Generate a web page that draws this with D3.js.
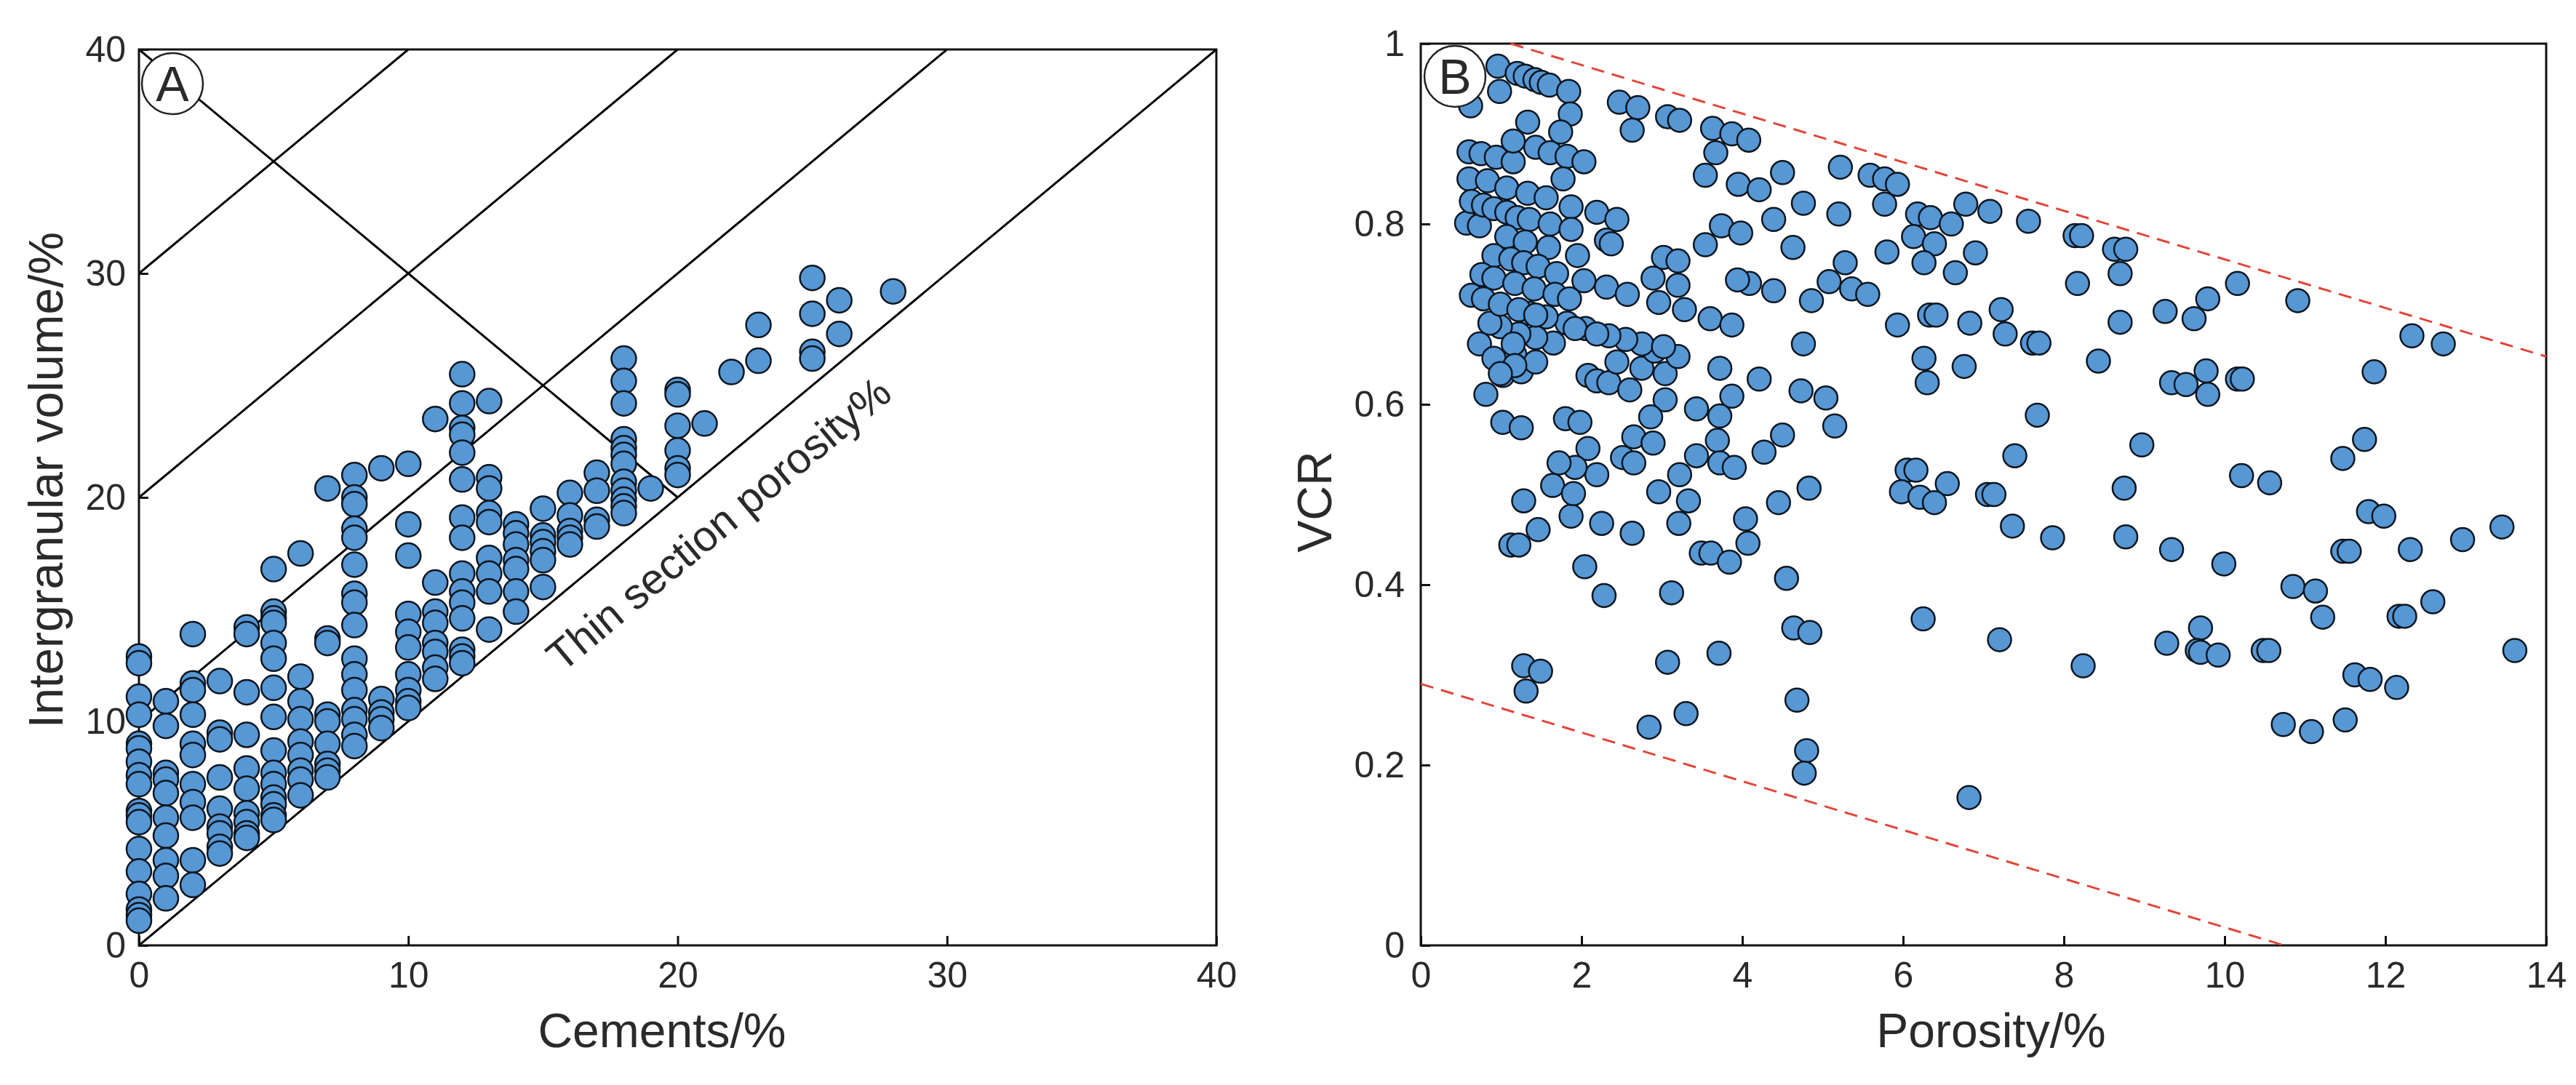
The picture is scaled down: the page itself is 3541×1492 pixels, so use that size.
<!DOCTYPE html>
<html><head><meta charset="utf-8">
<script src="https://cdn.jsdelivr.net/npm/d3@7"></script>
<style>
html,body{margin:0;padding:0;background:#fff;}
svg{display:block;}
text{font-family:"Liberation Sans",Arial,sans-serif;fill:#2a2a2a;}
</style>
</head><body>
<svg id="chart" width="3541" height="1492"></svg>
<script>
// ---------- Panel A data ----------
const aTicks = [0, 10, 20, 30, 40];
const aGuideOffsets = [0, 10, 20, 30];          // lines IGV = cements + offset
const aCrossLine = [[0, 40], [20, 20]];        // descending line
const aCements = [0,1,2,3,4,5,6,7,8,9,10,11,12,13,14,15,16,17,18,19,20,21,22,23,25,26,28];
const aIGV = [
  [12.9,12.6,11.1,10.3,9.0,8.8,8.2,7.6,7.2,6.0,5.8,5.5,4.3,3.3,2.3,1.6,1.35,1.1],
  [10.9,9.8,7.7,7.4,6.8,5.7,4.9,3.8,3.1,2.1],
  [13.9,11.7,11.4,10.3,9.0,8.5,7.2,6.4,5.7,3.8,2.7],
  [11.8,9.5,9.2,7.5,6.1,5.3,5.0,4.4,4.1],
  [14.2,13.9,11.3,9.4,7.9,7.0,5.9,5.5,5.0,4.8],
  [16.8,14.9,14.6,14.4,13.5,12.8,11.5,10.2,8.7,7.7,7.2,6.6,6.3,5.8,5.6],
  [17.5,12.0,10.9,10.1,9.1,8.5,7.8,7.4,6.7],
  [20.4,13.7,13.5,10.3,10.0,9.0,8.1,7.8,7.5],
  [21.0,20.0,19.7,18.6,18.2,17.0,15.7,15.3,14.3,12.8,12.1,11.4,10.5,10.1,9.4,8.9],
  [21.3,11.0,10.4,10.1,9.7],
  [21.5,18.8,17.4,14.8,14.0,13.3,12.1,11.4,10.9,10.6],
  [23.5,16.2,14.9,14.4,13.5,13.1,12.4,11.9],
  [25.5,24.2,23.1,22.8,22.0,20.8,19.1,18.2,16.6,15.8,15.3,14.6,13.2,12.9,12.6],
  [24.3,20.9,20.4,19.3,18.9,17.3,16.6,15.8,14.1],
  [18.8,18.4,17.9,17.2,16.8,15.8,14.9],
  [19.5,18.3,18.0,17.6,17.2,16.0],
  [20.2,19.2,18.5,18.2,17.9],
  [21.1,20.3,19.0,18.7],
  [26.2,25.2,24.2,22.6,22.2,21.9,21.5,20.7,20.3,19.9,19.6,19.3],
  [20.4],
  [24.8,24.6,23.2,22.1,21.3,21.0],
  [23.3],
  [25.6],
  [27.7,26.1],
  [29.8,28.2,26.5,26.2],
  [28.8,27.3],
  [29.2]
];

// ---------- Panel B data ----------
const bXTicks = [0, 2, 4, 6, 8, 10, 12, 14];
const bYTicks = [0, 0.2, 0.4, 0.6, 0.8, 1];
const bUpperLine = [[1.12, 1.0], [14, 0.653]];
const bLowerLine = [[0, 0.29], [10.74, 0]];
const bPorosity = [
  6.78,7.08,7.56,8.14,8.22,8.63,8.77,6.9,8.70,8.17,10.16,9.79,10.91,9.26,9.62,7.22,6.83,7.27,8.70,7.61,7.69,12.33,12.72,6.76,8.43,
  9.34,9.52,9.77,9.79,10.16,10.22,11.86,7.67,8.97,7.39,11.74,11.47,7.05,7.13,8.75,10.21,10.56,7.36,7.86,8.77,9.34,9.99,11.79,11.98,
  11.47,11.55,12.31,12.96,13.45,10.85,11.13,11.22,12.17,12.24,12.59,7.2,9.28,9.70,9.66,9.70,9.92,10.48,10.55,13.61,8.24,11.62,11.81,
  12.14,10.73,11.08,11.5,6.82,
  1.87,2.25,2.63,1.46,1.12,1.22,3.21,4.04,4.07,3.49,3.61,3.84,2.04,2.28,3.12,4.55,6.25,4.64,4.84,1.28,1.49,1.31,3.07,3.71,4.68,3.3,
  2.84,4.8,4.77,
  0.96,1.2,1.3,1.42,1.5,1.6,1.84,0.98,0.62,1.86,2.47,2.70,2.63,3.07,3.22,3.63,3.87,4.08,3.67,3.54,3.95,4.21,4.5,5.22,5.59,5.77,5.93,
  4.76,5.2,5.77,6.18,6.34,6.6,4.39,3.74,3.98,3.54,4.63,5.8,6.13,6.39,6.26,6.65,5.28,5.08,5.36,5.56,4.86,4.39,4.09,3.94,3.02,3.2,2.89,
  3.2,2.96,3.28,3.6,3.87,4.76,5.93,6.33,6.41,6.26,6.30,3.72,4.21,3.87,4.73,5.04,5.15,3.43,3.72,3.69,4.5,4.27,3.43,3.72,3.90,3.22,2.96,
  3.33,4.45,4.83,6.05,6.16,6.55,5.98,6.21,6.39,
  3.04,2.86,2.65,2.89,2.51,2.65,2.19,2.08,1.92,1.72,1.64,1.9,1.28,1.8,1.98,1.02,1.25,0.81,1.02,1.25,2.08,2.19,2.34,2.6,2.44,2.75,3.04,
  3.2,2.91,2.75,2.55,2.34,2.05,1.82,1.56,1.35,1.17,1.43,1.65,1.43,1.22,0.99,0.86,0.73,
  0.6,0.75,0.94,1.15,1.33,1.43,1.61,1.74,1.82,2.03,1.77,1.15,
  0.6,0.83,1.07,1.33,1.56,1.87,2.19,2.44,2.31,2.37,
  0.57,0.73,0.63,0.78,0.91,1.07,1.2,1.35,1.61,1.87,1.07,1.3,1.59,1.95,0.91,1.12,1.28,1.46,1.69,2.03,2.31,2.57,
  0.76,0.91,1.17,1.41,1.67,1.85,0.63,0.78,0.99,1.22,1.43,
  1.15,0.91,1.17,0.99,1.92,2.19,3.02
];
const bVCR = [
  0.822,0.814,0.803,0.787,0.787,0.772,0.772,0.768,0.745,0.734,0.734,0.717,0.715,0.703,0.695,0.705,0.69,0.678,0.691,0.668,0.668,0.676,0.667,0.642,0.648,
  0.624,0.622,0.637,0.611,0.628,0.628,0.636,0.588,0.555,0.543,0.561,0.54,0.5,0.5,0.507,0.521,0.513,0.465,0.452,0.453,0.439,0.423,0.481,0.476,
  0.437,0.437,0.439,0.45,0.464,0.398,0.393,0.364,0.365,0.365,0.381,0.339,0.335,0.352,0.327,0.325,0.322,0.327,0.327,0.327,0.31,0.30,0.295,
  0.286,0.245,0.237,0.25,0.164,
  0.476,0.468,0.457,0.461,0.444,0.444,0.468,0.473,0.446,0.435,0.435,0.425,0.42,0.388,0.391,0.407,0.362,0.352,0.347,0.31,0.304,0.282,0.314,0.324,0.272,0.257,
  0.242,0.216,0.191,
  0.975,0.967,0.964,0.96,0.957,0.954,0.947,0.947,0.931,0.922,0.935,0.929,0.904,0.919,0.915,0.906,0.900,0.893,0.879,0.854,0.844,0.838,0.857,0.863,0.854,0.850,0.844,
  0.823,0.811,0.822,0.811,0.807,0.80,0.805,0.798,0.79,0.777,0.774,0.769,0.786,0.778,0.757,0.746,0.757,0.736,0.728,0.722,0.715,0.726,0.734,0.738,0.763,0.759,0.740,
  0.732,0.713,0.705,0.695,0.688,0.667,0.688,0.699,0.699,0.651,0.624,0.640,0.628,0.609,0.615,0.607,0.576,0.595,0.587,0.560,0.566,0.547,0.543,0.535,0.530,0.522,0.503,
  0.493,0.491,0.507,0.527,0.527,0.512,0.503,0.497,0.491,
  0.605,0.586,0.564,0.557,0.541,0.535,0.522,0.551,0.530,0.535,0.510,0.501,0.493,0.584,0.580,0.580,0.574,0.611,0.632,0.636,0.632,0.626,0.624,0.616,0.647,0.640,0.634,
  0.653,0.659,0.667,0.672,0.676,0.684,0.690,0.697,0.701,0.655,0.647,0.668,0.674,0.678,0.686,0.690,0.667,
  0.88,0.878,0.874,0.869,0.913,0.885,0.879,0.902,0.875,0.869,0.85,0.892,
  0.85,0.848,0.840,0.834,0.829,0.819,0.813,0.805,0.782,0.778,
  0.801,0.798,0.825,0.821,0.817,0.813,0.807,0.805,0.80,0.794,0.786,0.780,0.774,0.765,0.765,0.761,0.757,0.753,0.745,0.737,0.730,0.722,
  0.744,0.740,0.734,0.728,0.722,0.717,0.721,0.717,0.711,0.705,0.699,
  0.667,0.651,0.643,0.634,0.684,0.678,0.664
];

// ---------- styles ----------
const markerFill = "#5697d4";
const markerStroke = "#0d1620";
const axisColor = "#111";
const tickFont = 50;
const titleFont = 66;

const svg = d3.select("#chart");
svg.append("rect").attr("width", 3541).attr("height", 1492).attr("fill", "#fff");

function frame(g, x, y) {
  const [x0, x1] = x.range(), [y0, y1] = y.range();
  g.append("rect").attr("x", x0).attr("y", y1).attr("width", x1 - x0).attr("height", y0 - y1)
    .attr("fill", "none").attr("stroke", axisColor).attr("stroke-width", 3);
}
function styleAxis(sel) {
  sel.select(".domain").remove();
  sel.selectAll(".tick line").attr("stroke", axisColor).attr("stroke-width", 3);
  sel.selectAll(".tick text").attr("font-size", tickFont)
    .attr("font-family", '"Liberation Sans",Arial,sans-serif').attr("fill", "#2a2a2a");
}

// ================= Panel A =================
const xA = d3.scaleLinear().domain([0, 40]).range([191, 1672]);
const yA = d3.scaleLinear().domain([0, 40]).range([1300, 68]);
const gA = svg.append("g");

const clipA = svg.append("defs").append("clipPath").attr("id", "clipA");
clipA.append("rect").attr("x", 191).attr("y", 68).attr("width", 1481).attr("height", 1232);

const lineA = d3.line().x(d => xA(d[0])).y(d => yA(d[1]));
const guides = gA.append("g").attr("clip-path", "url(#clipA)");
aGuideOffsets.forEach(o => {
  guides.append("path").datum([[0, o], [40 - o, 40]]).attr("d", lineA)
    .attr("fill", "none").attr("stroke", "#000").attr("stroke-width", 3);
});
guides.append("path").datum(aCrossLine).attr("d", lineA)
  .attr("fill", "none").attr("stroke", "#000").attr("stroke-width", 3);

gA.append("g").attr("transform", "translate(0,1300)")
  .call(d3.axisBottom(xA).tickValues(aTicks).tickSizeInner(-13).tickSizeOuter(0).tickPadding(22).tickFormat(d3.format("d")))
  .call(styleAxis);
gA.append("g").attr("transform", "translate(191,0)")
  .call(d3.axisLeft(yA).tickValues(aTicks).tickSizeInner(-13).tickSizeOuter(0).tickPadding(18).tickFormat(d3.format("d")))
  .call(styleAxis);
frame(gA, xA, yA);

const aPoints = [];
aCements.forEach((c, i) => aIGV[i].forEach(v => aPoints.push([c, v])));
gA.append("g").selectAll("circle").data(aPoints).join("circle")
  .attr("cx", d => xA(d[0])).attr("cy", d => yA(d[1])).attr("r", 17)
  .attr("fill", markerFill).attr("stroke", markerStroke).attr("stroke-width", 2.5);

gA.append("text").attr("transform", `translate(1001,736) rotate(-39.75)`)
  .attr("text-anchor", "middle").attr("font-size", 59).text("Thin section porosity%");

gA.append("text").attr("x", 910).attr("y", 1440).attr("text-anchor", "middle")
  .attr("font-size", titleFont).text("Cements/%");
gA.append("text").attr("transform", "translate(86,660) rotate(-90)").attr("text-anchor", "middle")
  .attr("font-size", titleFont).text("Intergranular volume/%");

gA.append("circle").attr("cx", 237).attr("cy", 115).attr("r", 42)
  .attr("fill", "#fff").attr("stroke", "#222").attr("stroke-width", 2.5);
gA.append("text").attr("x", 237).attr("y", 139).attr("text-anchor", "middle")
  .attr("font-size", 68).text("A");

// ================= Panel B =================
const xB = d3.scaleLinear().domain([0, 14]).range([1953, 3500]);
const yB = d3.scaleLinear().domain([0, 1]).range([1300, 60]);
const gB = svg.append("g");

gB.append("g").attr("transform", "translate(0,1300)")
  .call(d3.axisBottom(xB).tickValues(bXTicks).tickSizeInner(-13).tickSizeOuter(0).tickPadding(22).tickFormat(d3.format("d")))
  .call(styleAxis);
gB.append("g").attr("transform", "translate(1953,0)")
  .call(d3.axisLeft(yB).tickValues(bYTicks).tickSizeInner(-13).tickSizeOuter(0).tickPadding(22).tickFormat(d => String(+d.toFixed(1))))
  .call(styleAxis);
frame(gB, xB, yB);

const lineB = d3.line().x(d => xB(d[0])).y(d => yB(d[1]));
[bUpperLine, bLowerLine].forEach(l => {
  gB.append("path").datum(l).attr("d", lineB).attr("fill", "none")
    .attr("stroke", "#e0463a").attr("stroke-width", 3).attr("stroke-dasharray", "18,11");
});

const bPoints = bPorosity.map((p, i) => [p, bVCR[i]]);
gB.append("g").selectAll("circle").data(bPoints).join("circle")
  .attr("cx", d => xB(d[0])).attr("cy", d => yB(d[1])).attr("r", 16)
  .attr("fill", markerFill).attr("stroke", markerStroke).attr("stroke-width", 2.5);

gB.append("text").attr("x", 2737).attr("y", 1440).attr("text-anchor", "middle")
  .attr("font-size", titleFont).text("Porosity/%");
gB.append("text").attr("transform", "translate(1830,690) rotate(-90)").attr("text-anchor", "middle")
  .attr("font-size", titleFont).text("VCR");

gB.append("circle").attr("cx", 2000).attr("cy", 105).attr("r", 42)
  .attr("fill", "#fff").attr("stroke", "#222").attr("stroke-width", 2.5);
gB.append("text").attr("x", 2000).attr("y", 129).attr("text-anchor", "middle")
  .attr("font-size", 68).text("B");
</script>
</body></html>
